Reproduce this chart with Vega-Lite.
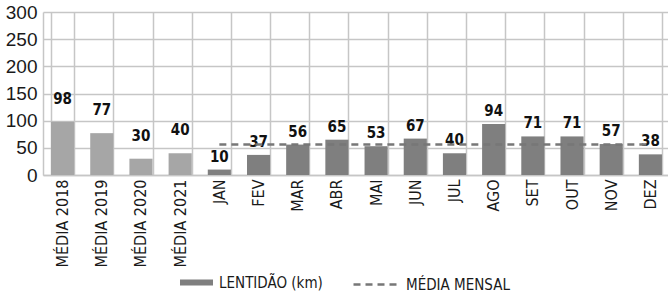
{
  "$schema": "https://vega.github.io/schema/vega-lite/v6.json",
  "width": 627,
  "height": 163,
  "autosize": "none",
  "padding": {"left": 43, "top": 12, "right": 0, "bottom": 118},
  "background": "white",
  "data": {
    "values": [
      {"cat": "MÉDIA 2018", "valor": 98, "tipo": "MÉDIA ANUAL"},
      {"cat": "MÉDIA 2019", "valor": 77, "tipo": "MÉDIA ANUAL"},
      {"cat": "MÉDIA 2020", "valor": 30, "tipo": "MÉDIA ANUAL"},
      {"cat": "MÉDIA 2021", "valor": 40, "tipo": "MÉDIA ANUAL"},
      {"cat": "JAN", "valor": 10, "tipo": "LENTIDÃO (km)"},
      {"cat": "FEV", "valor": 37, "tipo": "LENTIDÃO (km)"},
      {"cat": "MAR", "valor": 56, "tipo": "LENTIDÃO (km)"},
      {"cat": "ABR", "valor": 65, "tipo": "LENTIDÃO (km)"},
      {"cat": "MAI", "valor": 53, "tipo": "LENTIDÃO (km)"},
      {"cat": "JUN", "valor": 67, "tipo": "LENTIDÃO (km)"},
      {"cat": "JUL", "valor": 40, "tipo": "LENTIDÃO (km)"},
      {"cat": "AGO", "valor": 94, "tipo": "LENTIDÃO (km)"},
      {"cat": "SET", "valor": 71, "tipo": "LENTIDÃO (km)"},
      {"cat": "OUT", "valor": 71, "tipo": "LENTIDÃO (km)"},
      {"cat": "NOV", "valor": 57, "tipo": "LENTIDÃO (km)"},
      {"cat": "DEZ", "valor": 38, "tipo": "LENTIDÃO (km)"}
    ]
  },
  "config": {
    "view": {"stroke": null},
    "font": "DejaVu Sans Condensed",
    "axis": {
      "title": null,
      "ticks": false,
      "grid": true,
      "gridColor": "#c6c6c6",
      "gridWidth": 1.5,
      "domainColor": "#c6c6c6",
      "domainWidth": 1.5,
      "labelColor": "#1a1a1a"
    }
  },
  "encoding": {
    "x": {
      "field": "cat",
      "type": "nominal",
      "sort": null,
      "scale": {"paddingInner": 0.41, "paddingOuter": 0.205},
      "axis": {
        "labelAngle": -90,
        "labelAlign": "right",
        "labelBaseline": "middle",
        "labelFont": "DejaVu Sans Condensed",
        "labelFontSize": 16,
        "labelPadding": 4,
        "tickBand": "extent"
      }
    },
    "y": {
      "field": "valor",
      "type": "quantitative",
      "scale": {"domain": [0, 300], "nice": false, "zero": true},
      "axis": {
        "values": [0, 50, 100, 150, 200, 250, 300],
        "labelOverlap": false,
        "labelFlush": false,
        "labelFont": "Liberation Sans",
        "labelFontSize": 19,
        "labelPadding": 6,
        "grid": true
      }
    }
  },
  "layer": [
    {
      "mark": {"type": "bar"},
      "encoding": {
        "color": {
          "field": "tipo",
          "type": "nominal",
          "scale": {"domain": ["MÉDIA ANUAL", "LENTIDÃO (km)"], "range": ["#a6a6a6", "#7f7f7f"]},
          "legend": {
            "title": null,
            "values": ["LENTIDÃO (km)"],
            "orient": "none",
            "legendX": 137,
            "legendY": 254,
            "padding": 0,
            "symbolType": "M-1,-0.18H1V0.18H-1Z",
            "symbolSize": 1089,
            "symbolStrokeWidth": 0,
            "labelOffset": 6,
            "labelFont": "DejaVu Sans Condensed",
            "labelFontSize": 15,
            "labelColor": "#1a1a1a"
          }
        }
      }
    },
    {
      "transform": [{"filter": "datum.tipo == 'MÉDIA ANUAL'"}],
      "mark": {"type": "text", "dy": -15, "baseline": "bottom", "fontWeight": "bold", "fontSize": 15, "font": "DejaVu Sans Condensed", "color": "#111"},
      "encoding": {
        "text": {"field": "valor", "type": "quantitative"}
      }
    },
    {
      "transform": [{"filter": "datum.tipo != 'MÉDIA ANUAL'"}],
      "mark": {"type": "text", "dy": -5, "baseline": "bottom", "fontWeight": "bold", "fontSize": 15, "font": "DejaVu Sans Condensed", "color": "#111"},
      "encoding": {
        "text": {"field": "valor", "type": "quantitative"}
      }
    },
    {
      "data": {"values": [{"cat": "JAN", "fim": "DEZ", "valor": 56, "serie": "MÉDIA MENSAL"}]},
      "mark": {"type": "rule", "strokeWidth": 2.5, "color": "#777777"},
      "encoding": {
        "x2": {"field": "fim"},
        "strokeDash": {
          "field": "serie",
          "type": "nominal",
          "scale": {"range": [[7, 5]]},
          "legend": {
            "title": null,
            "orient": "none",
            "legendX": 309,
            "legendY": 247,
            "padding": 0,
            "symbolType": "stroke",
            "symbolSize": 2304,
            "symbolStrokeWidth": 2.5,
            "symbolStrokeColor": "#777777",
            "labelOffset": 3,
            "labelFont": "DejaVu Sans Condensed",
            "labelFontSize": 15,
            "labelColor": "#1a1a1a"
          }
        }
      }
    }
  ]
}
